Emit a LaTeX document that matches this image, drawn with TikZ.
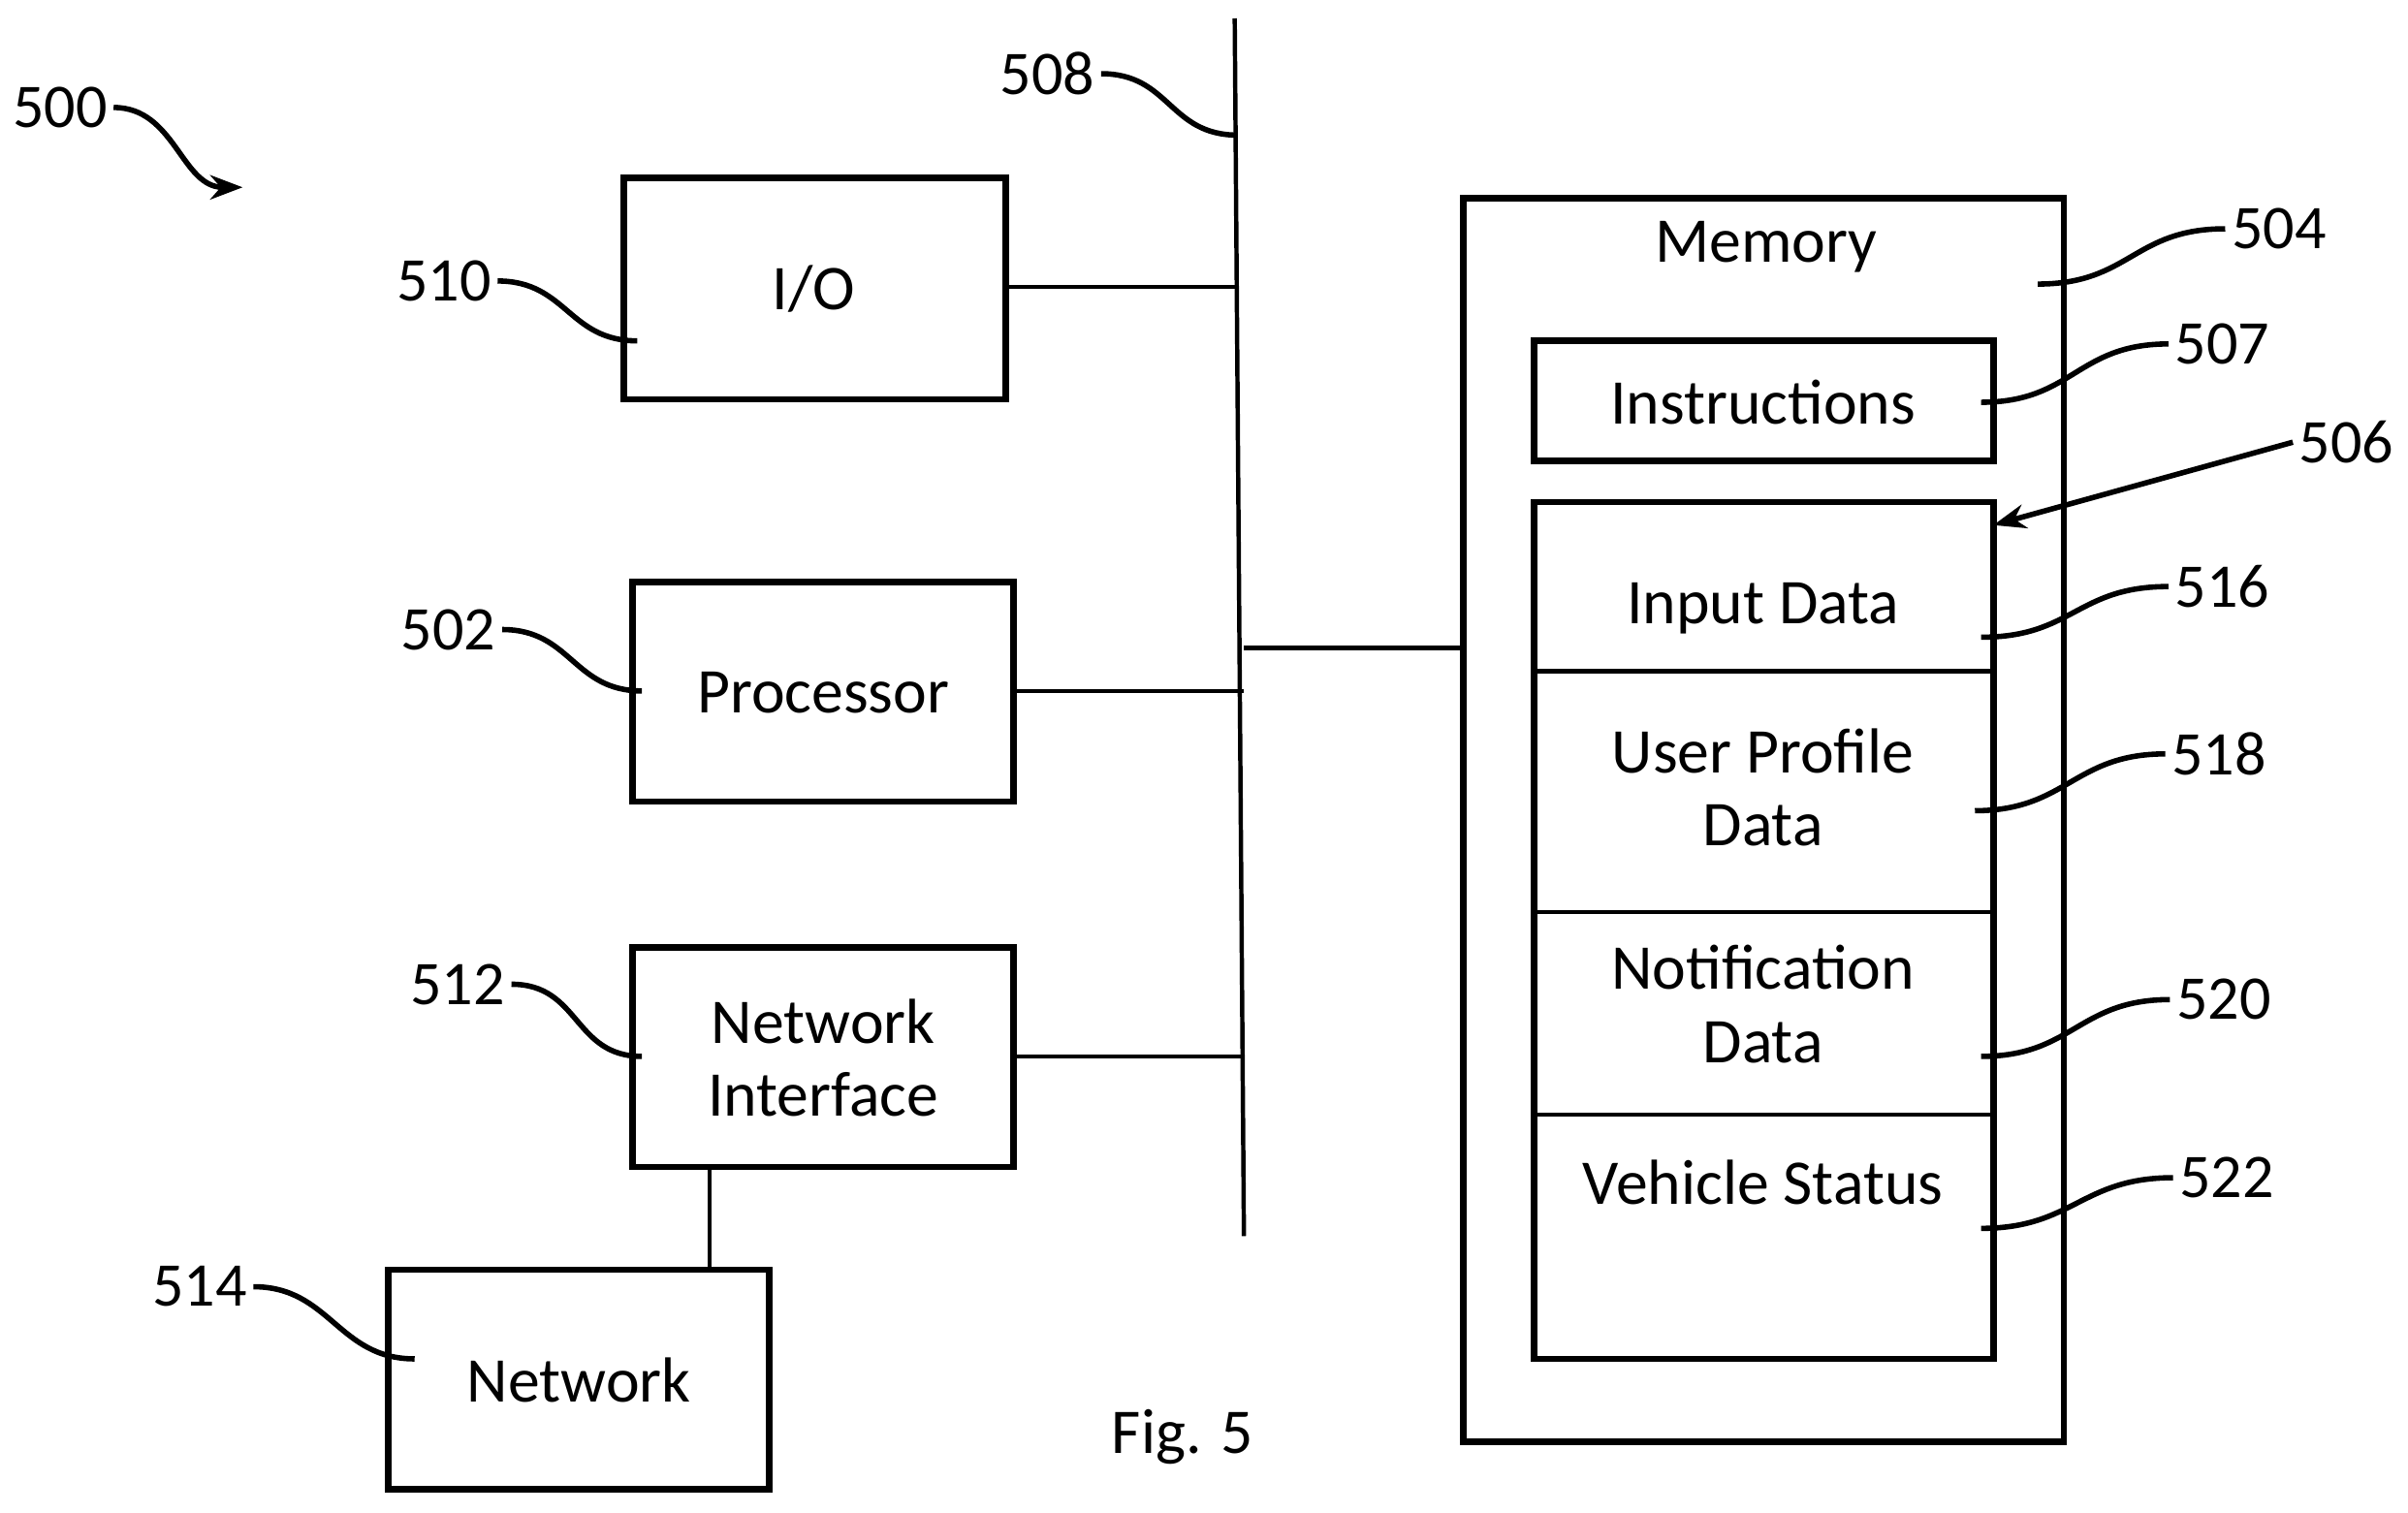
\documentclass[tikz,border=0pt]{standalone}
\usepackage{fontspec}
\setmainfont{Carlito}
\usetikzlibrary{arrows.meta}
\begin{document}
\begin{tikzpicture}[x=0.01cm,y=-0.01cm,
  box/.style={draw,line width=1.2pt},
  conn/.style={line width=0.8pt},
  lead/.style={line width=1pt},
  num/.style={font=\fontsize{11.5}{13}\selectfont,inner sep=1pt},
  txt/.style={font=\fontsize{11.8}{13.5}\selectfont,align=center}]
\useasboundingbox (0,0) rectangle (1568,985);
% boxes
\draw[box] (406,116) rectangle (655,260);
\node[txt] (io) at (530,188) {I/O};
\draw[box] (412,379) rectangle (660,522);
\node[txt] (proc) at (536,451) {Processor};
\draw[box] (412,617) rectangle (660,760);
\node[txt] (ni) at (536,689) {Network\\Interface};
\draw[box] (253,827) rectangle (501,970);
\node[txt] (net) at (377,899) {Network};
% memory
\draw[box] (953,129) rectangle (1344,939);
\node[txt] (mem) at (1150,161) {Memory};
\draw[box] (999,222) rectangle (1298,300);
\node[txt] (ins) at (1148,262) {Instructions};
\draw[box] (999,327) rectangle (1298,885);
\draw[conn] (999,437) -- (1298,437);
\draw[conn] (999,594) -- (1298,594);
\draw[conn] (999,726) -- (1298,726);
\node[txt] (inp) at (1148,396) {Input Data};
\node[txt] (up) at (1148,513) {User Profile\\Data};
\node[txt] (nd) at (1148,654) {Notification\\Data};
\node[txt] (vs) at (1148,770) {Vehicle Status};
\node[txt] (fig) at (770,936) {Fig. 5};
% bus
\coordinate (bt) at (804,12);
\coordinate (bb) at (810,805);
\draw[conn] (bt) -- (bb);
\draw[conn] (655,187) -- (805,187);
\draw[conn] (660,450) -- (810,450);
\draw[conn] (660,688) -- (810,688);
\draw[conn] (810,422) -- (953,422);
\draw[conn] (462,760) -- (462,827);
% labels
\node[num,anchor=east] (l500) at (74,70) {500};
\draw[lead,-{Stealth[length=6pt]}] (l500.east) .. controls +(40,0) and +(-40,0) .. (158,122);
\node[num,anchor=east] (l508) at (717,48) {508};
\draw[lead] (l508.east) .. controls +(45,0) and +(-45,0) .. (806,88);
\node[num,anchor=east] (l510) at (324,183) {510};
\draw[lead] (l510.east) .. controls +(45,0) and +(-45,0) .. (415,222);
\node[num,anchor=east] (l502) at (327,410) {502};
\draw[lead] (l502.east) .. controls +(45,0) and +(-45,0) .. (418,450);
\node[num,anchor=east] (l512) at (333,641) {512};
\draw[lead] (l512.east) .. controls +(45,0) and +(-45,0) .. (418,688);
\node[num,anchor=east] (l514) at (165,838) {514};
\draw[lead] (l514.east) .. controls +(50,0) and +(-50,0) .. (270,885);
\node[num,anchor=west] (l504) at (1449,149) {504};
\draw[lead] (l504.west) .. controls +(-60,0) and +(60,0) .. (1327,185);
\node[num,anchor=west] (l507) at (1412,224) {507};
\draw[lead] (l507.west) .. controls +(-60,0) and +(60,0) .. (1290,262);
\node[num,anchor=west] (l506) at (1493,288) {506};
\draw[lead,-{Stealth[length=6pt]}] (l506.west) -- (1298,342);
\node[num,anchor=west] (l516) at (1412,382) {516};
\draw[lead] (l516.west) .. controls +(-60,0) and +(60,0) .. (1290,415);
\node[num,anchor=west] (l518) at (1410,491) {518};
\draw[lead] (l518.west) .. controls +(-60,0) and +(60,0) .. (1286,528);
\node[num,anchor=west] (l520) at (1413,651) {520};
\draw[lead] (l520.west) .. controls +(-60,0) and +(60,0) .. (1290,688);
\node[num,anchor=west] (l522) at (1415,767) {522};
\draw[lead] (l522.west) .. controls +(-60,0) and +(60,0) .. (1290,800);
\end{tikzpicture}
\end{document}
